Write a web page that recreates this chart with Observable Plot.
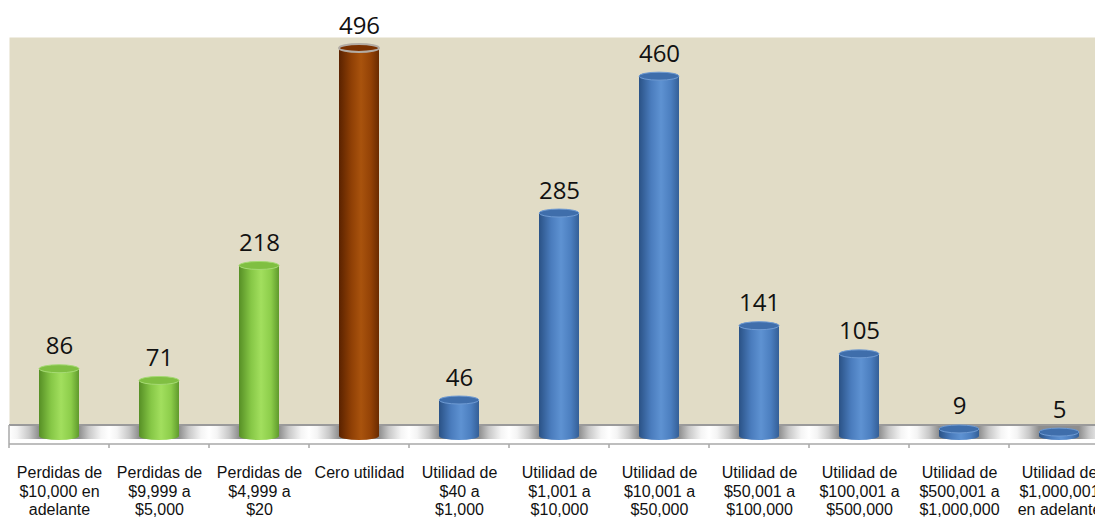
<!DOCTYPE html>
<html><head><meta charset="utf-8">
<script src="https://cdn.jsdelivr.net/npm/d3@7"></script>
<script src="https://cdn.jsdelivr.net/npm/@observablehq/plot@0.6"></script>
<style>html,body{margin:0;padding:0;background:#fff;overflow:hidden}</style>
</head><body><div id="chart"></div>
<script>
const categories = [
  "Perdidas de\n$10,000 en\nadelante",
  "Perdidas de\n$9,999 a\n$5,000",
  "Perdidas de\n$4,999 a\n$20",
  "Cero utilidad",
  "Utilidad de\n$40 a\n$1,000",
  "Utilidad de\n$1,001 a\n$10,000",
  "Utilidad de\n$10,001 a\n$50,000",
  "Utilidad de\n$50,001 a\n$100,000",
  "Utilidad de\n$100,001 a\n$500,000",
  "Utilidad de\n$500,001 a\n$1,000,000",
  "Utilidad de\n$1,000,001\nen adelante"
];
const values = [86, 71, 218, 496, 46, 285, 460, 141, 105, 9, 5];
const groups = ["perdida","perdida","perdida","cero","utilidad","utilidad","utilidad","utilidad","utilidad","utilidad","utilidad"];

const data = categories.map((c, i) => ({cat: c, value: values[i], group: groups[i]}));

const bodyStops = {
  perdida: [[0,"#568f25"],[0.3,"#86c746"],[0.55,"#a2df5e"],[0.8,"#8ccd4a"],[1,"#5f9a2c"]],
  cero:    [[0,"#5a2200"],[0.3,"#8e3f05"],[0.55,"#a9530d"],[0.8,"#934206"],[1,"#6a2b00"]],
  utilidad:[[0,"#2a5286"],[0.3,"#4a7cbd"],[0.55,"#5e92d2"],[0.8,"#4b7ebf"],[1,"#345f97"]]
};
const topFill = {perdida: "#80bf42", cero: "#7a3100", utilidad: "#3f6eab"};
const topStroke = {perdida: "#a6da74", cero: "#b3aca4", utilidad: "#6f9bd3"};

const defsMark = () => {
  const defs = d3.create("svg:defs");
  for (const [k, stops] of Object.entries(bodyStops)) {
    const g = defs.append("linearGradient").attr("id", "g-" + k)
      .attr("x1", 0).attr("x2", 1).attr("y1", 0).attr("y2", 0);
    for (const [o, c] of stops) g.append("stop").attr("offset", o).attr("stop-color", c);
  }
  const f = defs.append("linearGradient").attr("id", "floorGrad")
    .attr("x1", 0).attr("x2", 1).attr("y1", 0).attr("y2", 0);
  [[0,"#ffffff"],[0.08,"#f4f4f4"],[0.2,"#c8c8c8"],[0.3,"#8e8e8e"],[0.7,"#8e8e8e"],[0.8,"#c8c8c8"],[0.92,"#f4f4f4"],[1,"#ffffff"]]
    .forEach(([o, c]) => f.append("stop").attr("offset", o).attr("stop-color", c));
  return defs.node();
};

const floorMark = (index, {x, y}, values, dims) => {
  const g = d3.create("svg:g");
  const step = x(categories[1]) - x(categories[0]);
  const bw = step * 0.4;
  const y0 = y(0);
  const top = y0 - 11, base = y0 + 8;
  const left = dims.marginLeft, right = dims.width;
  g.append("rect").attr("x", left).attr("y", top).attr("width", right - left).attr("height", base - top).attr("fill", "#ffffff");
  g.selectAll("rect.cell").data(categories).join("rect").attr("class", "cell")
    .attr("x", d => x(d) + bw / 2 - step / 2).attr("y", top + 1)
    .attr("width", step).attr("height", base - top - 6)
    .attr("fill", "url(#floorGrad)");
  g.append("line").attr("x1", left).attr("x2", right).attr("y1", top).attr("y2", top)
    .attr("stroke", "#9a9a9a").attr("stroke-width", 2);
  g.append("line").attr("x1", left).attr("x2", right).attr("y1", base).attr("y2", base)
    .attr("stroke", "#a8a8a8").attr("stroke-width", 1.5);
  g.append("line").attr("x1", left).attr("x2", left).attr("y1", top).attr("y2", base)
    .attr("stroke", "#a8a8a8").attr("stroke-width", 1.5);
  g.selectAll("line.tick").data(categories).join("line").attr("class", "tick")
    .attr("x1", d => x(d) + bw / 2 - step / 2).attr("x2", d => x(d) + bw / 2 - step / 2)
    .attr("y1", base).attr("y2", base + 4).attr("stroke", "#a8a8a8").attr("stroke-width", 1.5);
  return g.node();
};

const chart = Plot.plot({
  width: 1095,
  height: 518,
  marginLeft: 9,
  marginRight: 0,
  marginTop: 37,
  marginBottom: 93,
  style: {overflow: "hidden", background: "#fff"},
  x: {type: "band", domain: categories, range: [9, 1109], paddingInner: 0.6, paddingOuter: 0.3, axis: null},
  y: {domain: [0, 496], range: [436, 48], axis: null},
  color: {type: "identity"},
  marks: [
    defsMark,
    Plot.frame({fill: "#e1dcc6", stroke: "none"}),
    floorMark,
    Plot.barY(data, {x: "cat", y1: 0, y2: 0, insetTop: -4, insetBottom: -4, rx: 20, ry: 4, fill: d => `url(#g-${d.group})`}),
    Plot.barY(data, {x: "cat", y1: 0, y2: "value", fill: d => `url(#g-${d.group})`}),
    Plot.barY(data, {x: "cat", y1: "value", y2: "value", insetTop: -4, insetBottom: -4, rx: 20, ry: 4,
      fill: d => topFill[d.group], stroke: d => topStroke[d.group], strokeWidth: d => d.group === "cero" ? 2 : 1}),
    Plot.text(data, {x: "cat", y: "value", text: d => String(d.value), lineAnchor: "bottom", dy: -15,
      fontSize: 24, fontFamily: "Open Sans", fill: "#111"}),
    Plot.text(data, {x: "cat", y: 0, text: "cat", lineAnchor: "top", dy: 29, lineHeight: 1.14,
      fontSize: 16, fontFamily: "Liberation Sans, Arial, sans-serif", fill: "#111", style: "letter-spacing:-0.4px"})
  ]
});
document.getElementById("chart").append(chart);
</script>
</body></html>
